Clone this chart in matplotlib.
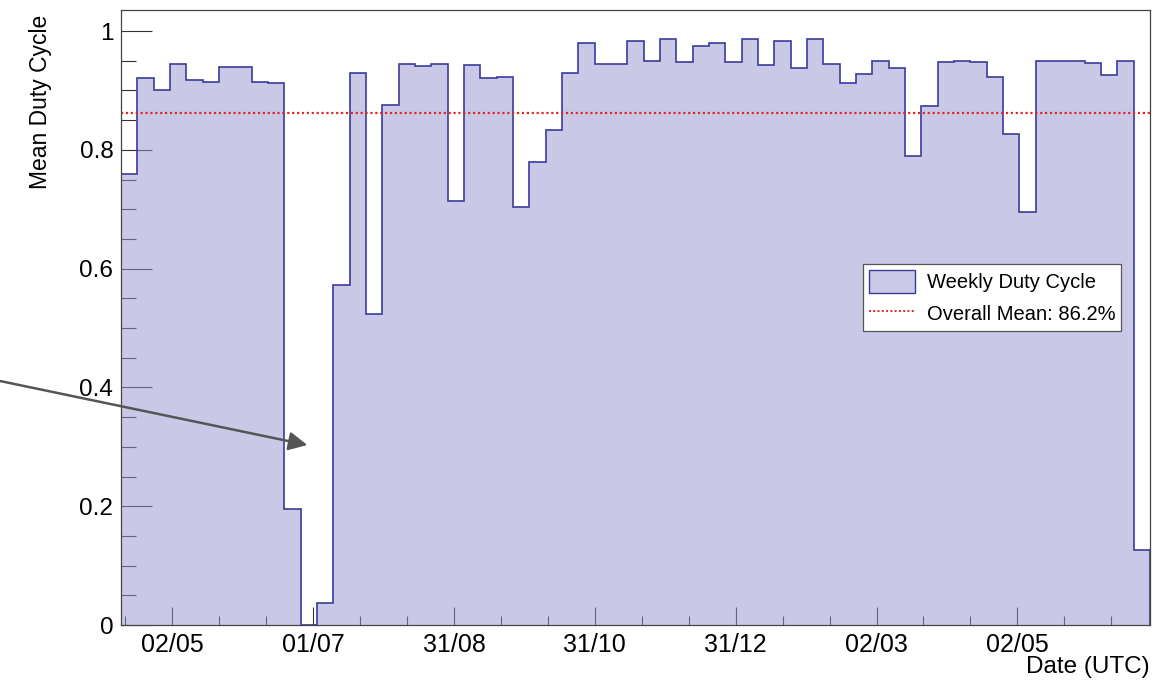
import numpy as np
import matplotlib
matplotlib.use('Agg')
from matplotlib import pyplot as plt
from matplotlib.patches import Patch
from matplotlib.lines import Line2D
from matplotlib.ticker import FixedLocator, MultipleLocator

plt.rcParams['font.family'] = ['Liberation Sans', 'DejaVu Sans']

# weekly mean duty cycle, one value per bin (x in days after first 02/05)
duty = [0.760, 0.921, 0.901, 0.944, 0.918, 0.914, 0.939, 0.939, 0.914, 0.912,
        0.195, 0.000, 0.037, 0.572, 0.930, 0.524, 0.875, 0.945, 0.941, 0.944,
        0.714, 0.942, 0.921, 0.922, 0.704, 0.779, 0.833, 0.930, 0.979, 0.945,
        0.945, 0.983, 0.949, 0.986, 0.948, 0.975, 0.979, 0.948, 0.986, 0.943,
        0.983, 0.938, 0.986, 0.944, 0.912, 0.928, 0.949, 0.938, 0.790, 0.873,
        0.948, 0.949, 0.948, 0.922, 0.827, 0.695, 0.949, 0.949, 0.949, 0.946,
        0.926, 0.949, 0.127]
overall_mean = 0.862
start_day = -22.2
end_day = 422.3
tick_step = 365 / 6
tick_labels = ['02/05', '01/07', '31/08', '31/10', '31/12', '02/03', '02/05']
gap_day, gap_val = 58.3, 0.303

edges = np.linspace(start_day, end_day, len(duty) + 1)

fig = plt.figure(figsize=(11.53, 6.82), dpi=100)
ax = fig.add_axes([121/1153, 1 - 625/682, 1029/1153, 615/682])

fill_col = '#9494d1'
line_col = '#3b3b9c'
ax.stairs(duty, edges, fill=True, facecolor=fill_col, alpha=0.5, edgecolor='none')
ax.stairs(duty, edges, color=line_col, lw=1.2)
ax.axhline(overall_mean, color='#e02828', ls=(0, (1, 1.2)), lw=1.6)

ax.set_xlim(start_day, end_day)
ax.set_ylim(0, 615/594)
ax.set_axisbelow(True)

ax.xaxis.set_major_locator(FixedLocator([k * tick_step for k in range(len(tick_labels))]))
ax.set_xticklabels(tick_labels)
ax.xaxis.set_minor_locator(MultipleLocator(tick_step / 3))
ax.yaxis.set_major_locator(FixedLocator([0, 0.2, 0.4, 0.6, 0.8, 1.0]))
ax.set_yticklabels(['0', '0.2', '0.4', '0.6', '0.8', '1'])
ax.yaxis.set_minor_locator(MultipleLocator(0.05))

ax.tick_params(axis='x', which='major', direction='in', length=13, width=0.8,
               color='#333333', labelsize=18, pad=6)
ax.tick_params(axis='x', which='minor', direction='in', length=6.5, width=0.8, color='#333333')
ax.tick_params(axis='y', which='major', direction='in', length=22, width=0.8,
               color='#333333', labelsize=17.5, pad=5.5)
ax.tick_params(axis='y', which='minor', direction='in', length=11, width=0.8, color='#333333')
for s in ax.spines.values():
    s.set_color('#444444')
    s.set_linewidth(0.9)

ax.text(-0.078, 0.993, 'Mean Duty Cycle', transform=ax.transAxes, rotation=90,
        ha='center', va='top', fontsize=16.5)
ax.text(1.0, -0.05, 'Date (UTC)', transform=ax.transAxes, ha='right', va='top', fontsize=17.5)

handles = [Patch(facecolor='#cacae8', edgecolor=line_col, lw=1.0),
           Line2D([], [], color='#e02828', ls=(0, (1, 1.2)), lw=1.4)]
leg = ax.legend(handles, ['Weekly Duty Cycle', 'Overall Mean: 86.2%'],
                loc='center', bbox_to_anchor=(0.721, 0.470, 0.251, 0.125), mode='expand',
                fontsize=14.5, frameon=True, fancybox=False, framealpha=1,
                edgecolor='#555555', handlelength=2.3, handleheight=1.4,
                labelspacing=0.45, borderpad=0.3, handletextpad=0.6, borderaxespad=0)
leg.get_frame().set_linewidth(0.9)

ax.annotate('', xy=(gap_day, gap_val), xycoords='data',
            xytext=(0.0, 1 - 381/682), textcoords='figure fraction',
            arrowprops=dict(arrowstyle='-|>', color='#555555', lw=1.8,
                            mutation_scale=28, shrinkA=0, shrinkB=0),
            annotation_clip=False)

plt.savefig('out.png', dpi=100)
